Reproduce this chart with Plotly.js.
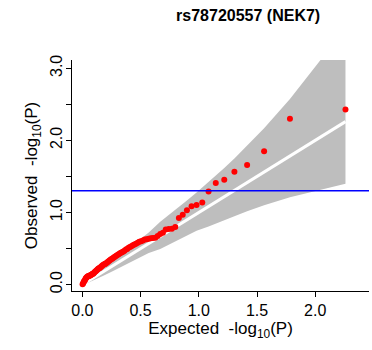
<!DOCTYPE html>
<html>
<head>
<meta charset="utf-8">
<script src="https://cdn.plot.ly/plotly-3.0.1.min.js"></script>
<style>html,body{margin:0;padding:0;background:#fff;}#chart{width:372px;height:350px;}</style>
</head>
<body>
<div id="chart"></div>
<script>
// Expected -log10(P) for each observed point
const expected = [2.260, 1.783, 1.561, 1.415, 1.306, 1.219, 1.146, 1.084, 1.030, 0.981,
  0.938, 0.898, 0.862, 0.829, 0.798, 0.769, 0.742, 0.716, 0.692, 0.669,
  0.647, 0.627, 0.607, 0.588, 0.570, 0.553, 0.536, 0.520, 0.504, 0.489,
  0.475, 0.461, 0.447, 0.434, 0.421, 0.409, 0.397, 0.385, 0.374, 0.362,
  0.352, 0.341, 0.331, 0.321, 0.311, 0.301, 0.292, 0.282, 0.273, 0.264,
  0.256, 0.247, 0.239, 0.231, 0.223, 0.215, 0.207, 0.199, 0.192, 0.185,
  0.177, 0.170, 0.163, 0.156, 0.149, 0.143, 0.136, 0.130, 0.123, 0.117,
  0.111, 0.105, 0.099, 0.093, 0.087, 0.081, 0.075, 0.070, 0.064, 0.059,
  0.053, 0.048, 0.043, 0.037, 0.032, 0.027, 0.022, 0.017, 0.012, 0.007, 0.002];
// Observed -log10(P)
const observed = [2.43, 2.30, 1.85, 1.66, 1.565, 1.455, 1.41, 1.29, 1.14, 1.105,
  1.085, 1.03, 0.97, 0.925, 0.80, 0.775, 0.77, 0.765, 0.72, 0.70,
  0.675, 0.65, 0.645, 0.643, 0.635, 0.63, 0.625, 0.61, 0.60, 0.595,
  0.58, 0.565, 0.555, 0.545, 0.53, 0.52, 0.51, 0.495, 0.485, 0.47,
  0.46, 0.45, 0.44, 0.43, 0.42, 0.41, 0.40, 0.39, 0.38, 0.37,
  0.36, 0.35, 0.34, 0.33, 0.32, 0.31, 0.30, 0.29, 0.285, 0.28,
  0.27, 0.26, 0.25, 0.24, 0.23, 0.225, 0.22, 0.21, 0.20, 0.19,
  0.18, 0.17, 0.16, 0.15, 0.15, 0.14, 0.135, 0.13, 0.125, 0.12,
  0.12, 0.115, 0.11, 0.10, 0.09, 0.08, 0.06, 0.05, 0.04, 0.02, 0.005];
// Confidence band
const bandX = [2.260, 1.783, 1.561, 1.415, 1.306, 1.219, 1.146, 1.084, 0.981, 0.898,
  0.798, 0.669, 0.570, 0.489, 0.362, 0.264, 0.185, 0.117, 0.059, 0.017, 0.002];
const bandUpper = [3.556, 2.575, 2.167, 1.922, 1.749, 1.616, 1.51, 1.421, 1.278, 1.167,
  1.035, 0.872, 0.724, 0.62, 0.476, 0.354, 0.256, 0.171, 0.101, 0.044, 0.018];
const bandLower = [1.40, 1.213, 1.10, 1.016, 0.949, 0.895, 0.848, 0.805, 0.745, 0.68,
  0.595, 0.495, 0.438, 0.374, 0.271, 0.19, 0.126, 0.072, 0.031, 0.005, 0.0001];
const threshold = 1.301; // -log10(0.05)
const xTickVals = [0, 0.5, 1.0, 1.5, 2.0];
const xTickText = ['0.0', '0.5', '1.0', '1.5', '2.0'];
const yTickVals = [0, 1.0, 2.0, 3.0];
const yTickText = ['0.0', '1.0', '2.0', '3.0'];
const yMinorTickVals = [0.5, 1.5, 2.5];
const titleText = '<b>rs78720557 (NEK7)</b>';

const FONT = 'Liberation Sans, Arial, Helvetica, sans-serif';

const polyX = bandX.concat(bandX.slice().reverse());
const polyY = bandUpper.concat(bandLower.slice().reverse());
const diagX = [Math.min(...expected), Math.max(...expected)];

const traces = [
  {x: polyX, y: polyY, type: 'scatter', mode: 'lines', fill: 'toself',
   fillcolor: '#BEBEBE', line: {width: 0, color: '#BEBEBE'}, hoverinfo: 'skip'},
  {x: diagX, y: diagX, type: 'scatter', mode: 'lines',
   line: {color: '#FFFFFF', width: 3}},
  {x: expected, y: observed, type: 'scatter', mode: 'markers',
   marker: {color: '#FF0000', size: 6, line: {width: 0}}}
];

const layout = {
  width: 372, height: 350,
  margin: {l: 72, r: 3, t: 60, b: 59},
  paper_bgcolor: '#FFFFFF', plot_bgcolor: '#FFFFFF',
  showlegend: false,
  font: {family: FONT, color: '#000000'},
  title: {text: titleText, font: {family: FONT, size: 16, color: '#000'},
          x: 0.593, xref: 'paper', xanchor: 'center', y: 0.957, yref: 'container', yanchor: 'middle'},
  xaxis: {
    range: [-0.089, 2.462], showgrid: false, zeroline: false,
    showline: true, linecolor: '#000', linewidth: 1,
    ticks: 'outside', ticklen: 5, tickwidth: 1, tickcolor: '#000',
    tickvals: xTickVals, ticktext: xTickText, ticklabelstandoff: 0,
    tickfont: {family: FONT, size: 16, color: '#000'},
    title: {text: 'Expected\u00a0 -log<sub>10</sub>(P)', font: {family: FONT, size: 17, color: '#000'}, standoff: 1}
  },
  yaxis: {
    range: [-0.089, 3.115], showgrid: false, zeroline: false,
    showline: true, linecolor: '#000', linewidth: 1,
    ticks: 'outside', ticklen: 5, tickwidth: 1, tickcolor: '#000',
    tickvals: yTickVals, ticktext: yTickText, tickangle: -90, ticklabelstandoff: -2,
    minor: {tickvals: yMinorTickVals, ticks: 'outside', ticklen: 5, tickwidth: 1, tickcolor: '#000', showgrid: false},
    tickfont: {family: FONT, size: 16, color: '#000'},
    title: {text: 'Observed\u00a0 -log<sub>10</sub>(P)', font: {family: FONT, size: 17, color: '#000'}, standoff: 5}
  },
  shapes: [
    {type: 'line', xref: 'paper', yref: 'y', x0: 0, x1: 1, y0: threshold, y1: threshold,
     line: {color: '#0000FF', width: 1.6}}
  ]
};

Plotly.newPlot('chart', traces, layout, {staticPlot: true, displayModeBar: false});
</script>
</body>
</html>
